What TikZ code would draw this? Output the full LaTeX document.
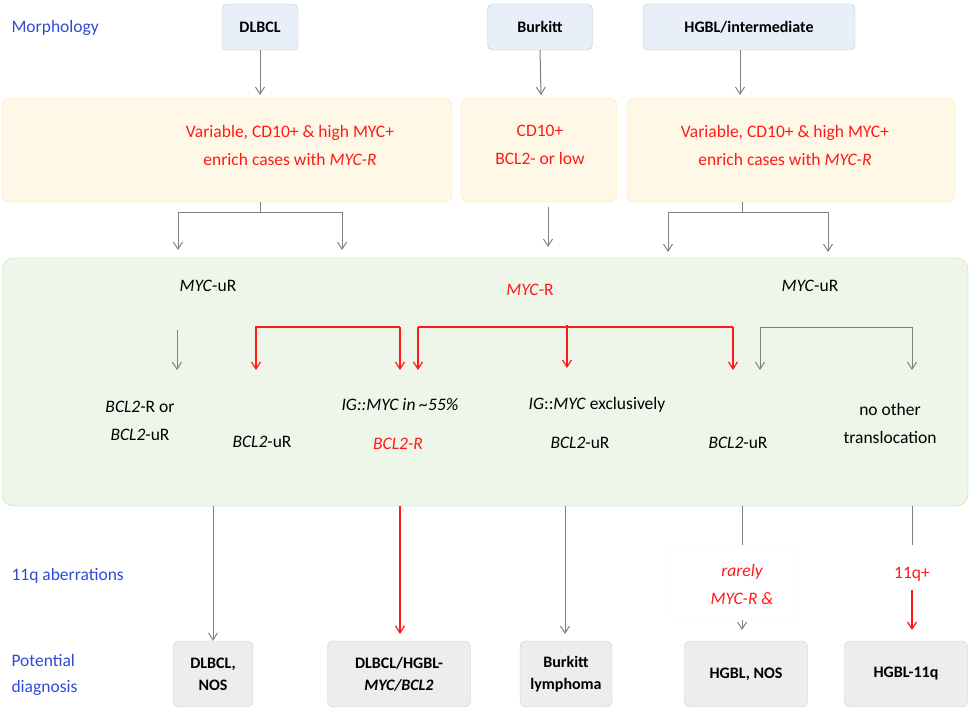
\documentclass[tikz,border=0pt]{standalone}
\usepackage{fontspec}
\setmainfont{Carlito}
\usetikzlibrary{arrows.meta}
\definecolor{lbl}{HTML}{2E4BD8}
\definecolor{rd}{HTML}{FF1A1A}
\definecolor{gr}{HTML}{808080}
\definecolor{tf}{HTML}{E9EFF8}\definecolor{td}{HTML}{B9C9E0}
\definecolor{yf}{HTML}{FFF8E6}\definecolor{yd}{HTML}{F8E2B0}
\definecolor{gf}{HTML}{EEF5E9}\definecolor{gd}{HTML}{BFD8AE}
\begin{document}
\begin{tikzpicture}[x=1pt,y=-1pt,font=\fontsize{17.5}{28}\selectfont,
 lab/.style={text=lbl,anchor=west,align=left,font=\fontsize{17.5}{26}\selectfont},
 top/.style={draw=td,fill=tf,rounded corners=5pt,font=\fontsize{16}{20}\selectfont\bfseries},
 imm/.style={draw=yd,fill=yf,rounded corners=8pt},
 dia/.style={draw=black!20,fill=black!7,rounded corners=6pt,font=\fontsize{16}{22}\selectfont\bfseries,align=center},
 ga/.style={draw=gr,line width=1pt,-{Straight Barb[length=7pt,width=9pt]}},
 ra/.style={draw=rd,line width=1.2pt,-{Straight Barb[length=7pt,width=9pt]}},
 gl/.style={draw=gr,line width=1pt},
 rl/.style={draw=rd,line width=1.2pt},
 rt/.style={text=rd,align=center}]
\useasboundingbox (0,0) rectangle (970,710);
% labels
\node[lab] (l1) at (8,28) {Morphology};
\node[lab] (l2) at (8,147) {Immuno-\\phenotype};
\node[lab] (l3) at (8,296) {Translocation};
\node[lab] (l4) at (8,576) {11q aberrations};
\node[lab] (l5) at (8,675) {Potential\\diagnosis};
% top
\node[top,minimum width=76pt,minimum height=46pt] (t1) at (260,27) {DLBCL};
\node[top,minimum width=105pt,minimum height=46pt] (t2) at (540,27) {Burkitt};
\node[top,minimum width=212pt,minimum height=46pt] (t3) at (749,27) {HGBL/intermediate};
% immuno
\node[imm,minimum width=450pt,minimum height=104pt] (i1) at (227,150) {};
\node[imm,minimum width=156pt,minimum height=104pt] (i2) at (539,150) {};
\node[imm,minimum width=328pt,minimum height=104pt] (i3) at (791,150) {};
\node[rt] (i1t) at (290,145) {Variable, CD10+ \& high MYC+\\enrich cases with \textit{MYC-R}};
\node[rt] (i2t) at (540,145) {CD10+\\BCL2- or low};
\node[rt] (i3t) at (785,145) {Variable, CD10+ \& high MYC+\\enrich cases with \textit{MYC-R}};
\coordinate (a1) at (260,95); \coordinate (a2) at (541,95); \coordinate (a3) at (740,95);
\draw[ga] (t1.south) -- (a1);
\draw[ga] (t2.south) -- (a2);
\draw[ga] (t3.south -| a3) -- (a3);
% green
\node[draw=gd,fill=gf,rounded corners=12pt,minimum width=966pt,minimum height=248pt] (g) at (485,382) {};
\coordinate (b1) at (178,250); \coordinate (b2) at (342,250);
\draw[gl] (260,202) -- (260,212) -- (178,212);
\draw[ga] (178,212) -- (b1);
\draw[ga] (260,212) -- (342,212) -- (b2);
\draw[ga] (548,207) -- (548,247);
\draw[gl] (742,202) -- (742,212) -- (668,212);
\draw[ga] (668,212) -- (668,252);
\draw[ga] (742,212) -- (828,212) -- (828,252);
\node (m1) at (208,286) {\textit{MYC}-uR};
\node[text=rd] (m2) at (530,290) {\textit{MYC}-R};
\node (m3) at (810,286) {\textit{MYC}-uR};
\draw[ga] (177,330) -- (177,370);
\draw[ra] (400,327) -- (256,327) -- (256,370);
\draw[ra] (400,327) -- (400,370);
\draw[ra] (418,327) -- (418,370);
\draw[rl] (418,327) -- (733,327);
\draw[ra] (733,327) -- (733,370);
\draw[ra] (567,325) -- (567,368);
\draw[ga] (760,327) -- (760,370);
\draw[ga] (760,327) -- (912,327) -- (912,370);
\node[align=center] (x1) at (140,421) {\textit{BCL2}-R or\\\textit{BCL2}-uR};
\node (x2) at (262,442) {\textit{BCL2}-uR};
\node (x3) at (400,405) {\textit{IG::MYC in \textasciitilde55\%}};
\node[text=rd] (x4) at (398,444) {\textit{BCL2-R}};
\node (x5) at (597,405) {\textit{IG}::\textit{MYC} exclusively};
\node (x6) at (580,443) {\textit{BCL2}-uR};
\node (x7) at (738,443) {\textit{BCL2}-uR};
\node[align=center] (x8) at (890,423) {no other\\translocation};
% bottom
\node[dia,minimum width=80pt,minimum height=66pt] (d1) at (213,674) {DLBCL,\\NOS};
\node[dia,minimum width=143pt,minimum height=66pt] (d2) at (399,674) {DLBCL/HGBL-\\\textit{MYC/BCL2}};
\node[dia,minimum width=92pt,minimum height=66pt] (d3) at (566,674) {Burkitt\\lymphoma};
\node[dia,minimum width=123pt,minimum height=66pt] (d4) at (746,674) {HGBL, NOS};
\node[dia,minimum width=123pt,minimum height=66pt] (d5) at (906,674) {HGBL-11q};
\draw[ga] (213,506) -- (d1.north);
\draw[ra] (400,506) -- (400,634);
\draw[ga] (565,506) -- (565,634);
\node[draw=black!4,fill=white,rounded corners=8pt,minimum width=130pt,minimum height=74pt] (rb) at (734,582) {};
\node[rt,font=\fontsize{17.5}{28}\selectfont\itshape] (rr) at (742,584) {rarely\\MYC-R \&};
\draw[gl] (742,506) -- (742,545);
\draw[ga] (742,620) -- (742,630);
\draw[gl] (912,506) -- (912,545);
\node[rt] (q) at (912,574) {11q+};
\draw[ra] (912,590) -- (912,630);
\end{tikzpicture}
\end{document}
